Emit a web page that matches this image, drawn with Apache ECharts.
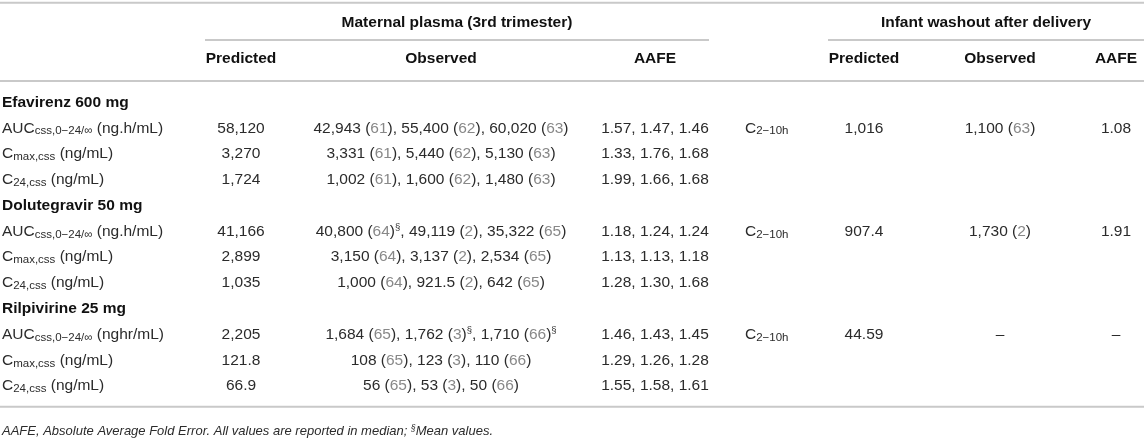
<!DOCTYPE html>
<html>
<head>
<meta charset="utf-8">
<script src="https://cdn.jsdelivr.net/npm/echarts@6/dist/echarts.min.js"></script>
<style>
  html, body {margin: 0; padding: 0; background: #fff;}
  #table {width: 1144px; height: 444px;}
</style>
</head>
<body>
<div id="table"></div>
<script>
// table content
const groupHeaders = ['Maternal plasma (3rd trimester)', 'Infant washout after delivery'];
const colHeaders = ['Predicted', 'Observed', 'AAFE', 'Predicted', 'Observed', 'AAFE'];
const drugs = ['Efavirenz 600 mg', 'Dolutegravir 50 mg', 'Rilpivirine 25 mg'];
const paramNames = [['AUC', 'css,0−24/∞'], ['C', 'max,css'], ['C', '24,css']];
const aucUnits = ['(ng.h/mL)', '(ng.h/mL)', '(nghr/mL)'];
const concUnit = '(ng/mL)';
const predicted = [
  ['58,120', '3,270', '1,724'],
  ['41,166', '2,899', '1,035'],
  ['2,205', '121.8', '66.9']
];
// [value, reference, mean value?]
const observed = [
  [[['42,943', '61'], ['55,400', '62'], ['60,020', '63']],
   [['3,331', '61'], ['5,440', '62'], ['5,130', '63']],
   [['1,002', '61'], ['1,600', '62'], ['1,480', '63']]],
  [[['40,800', '64', true], ['49,119', '2'], ['35,322', '65']],
   [['3,150', '64'], ['3,137', '2'], ['2,534', '65']],
   [['1,000', '64'], ['921.5', '2'], ['642', '65']]],
  [[['1,684', '65'], ['1,762', '3', true], ['1,710', '66', true]],
   [['108', '65'], ['123', '3'], ['110', '66']],
   [['56', '65'], ['53', '3'], ['50', '66']]]
];
const aafe = [
  ['1.57, 1.47, 1.46', '1.33, 1.76, 1.68', '1.99, 1.66, 1.68'],
  ['1.18, 1.24, 1.24', '1.13, 1.13, 1.18', '1.28, 1.30, 1.68'],
  ['1.46, 1.43, 1.45', '1.29, 1.26, 1.28', '1.55, 1.58, 1.61']
];
const infantParam = ['C', '2−10h'];
const infantPredicted = ['1,016', '907.4', '44.59'];
const infantObserved = [['1,100', '63'], ['1,730', '2'], null];
const infantAafe = ['1.08', '1.91', '–'];
const footnote = 'AAFE, Absolute Average Fold Error. All values are reported in median; ';
const footnoteMean = 'Mean values.';

// layout (x in px, y in row units; body row 0 = first drug)
const colX = {label: 2, pred: 241, obs: 441, aafe: 655, infLabel: 745, infPred: 864, infObs: 1000, infAafe: 1116,
  group1: 457, group2: 986};
const rowHeader1 = -3.1, rowHeader2 = -1.69, rowFoot = 12.77;
const rules = [
  [0, 1144, -3.86], [205, 709, -2.42], [828, 1144, -2.42], [0, 1144, -0.83], [0, 1144, 11.8]
];

const FONT = "'Liberation Sans', Arial, Helvetica, sans-serif";
const TEXT = '#2b2b2b';
const rich = {
  n: {fontSize: 15.5, fontFamily: FONT, fill: TEXT, lineHeight: 18},
  b: {fontSize: 15.5, fontFamily: FONT, fill: '#111', fontWeight: 'bold', lineHeight: 18},
  r: {fontSize: 15.5, fontFamily: FONT, fill: '#888', lineHeight: 18},
  s: {fontSize: 11.5, fontFamily: FONT, fill: TEXT, lineHeight: 9, verticalAlign: 'bottom'},
  p: {fontSize: 9.5, fontFamily: FONT, fill: TEXT, lineHeight: 10, verticalAlign: 'top'},
  i: {fontSize: 13, fontFamily: FONT, fill: TEXT, fontStyle: 'italic', lineHeight: 16},
  ip: {fontSize: 8.5, fontFamily: FONT, fill: TEXT, fontStyle: 'italic', lineHeight: 9, verticalAlign: 'top'}
};

function obsText(o) {
  let t = '{n|' + o[0] + ' (}{r|' + o[1] + '}{n|)}';
  if (o[2]) t += '{p|§}';
  return t;
}

const cells = [];
function cell(x, row, text, align) {
  cells.push([x, row, text, align || 'center']);
}

cell(colX.group1, rowHeader1, '{b|' + groupHeaders[0] + '}');
cell(colX.group2, rowHeader1, '{b|' + groupHeaders[1] + '}');
['pred', 'obs', 'aafe', 'infPred', 'infObs', 'infAafe'].forEach((k, i) => {
  cell(colX[k], rowHeader2, '{b|' + colHeaders[i] + '}');
});

drugs.forEach((d, di) => {
  const base = di * 4;
  cell(colX.label, base, '{b|' + d + '}', 'left');
  paramNames.forEach((p, pi) => {
    const row = base + 1 + pi;
    const unit = pi === 0 ? aucUnits[di] : concUnit;
    cell(colX.label, row, '{n|' + p[0] + '}{s|' + p[1] + '}{n| ' + unit + '}', 'left');
    cell(colX.pred, row, '{n|' + predicted[di][pi] + '}');
    cell(colX.obs, row, observed[di][pi].map(obsText).join('{n|, }'));
    cell(colX.aafe, row, '{n|' + aafe[di][pi] + '}');
  });
  const row = base + 1;
  cell(colX.infLabel, row, '{n|' + infantParam[0] + '}{s|' + infantParam[1] + '}', 'left');
  cell(colX.infPred, row, '{n|' + infantPredicted[di] + '}');
  const io = infantObserved[di];
  cell(colX.infObs, row, io ? obsText(io) : '{n|–}');
  cell(colX.infAafe, row, '{n|' + infantAafe[di] + '}');
});

cell(colX.label, rowFoot, '{i|' + footnote + '}{ip|§}{i|' + footnoteMean + '}', 'left');

const chart = echarts.init(document.getElementById('table'));
chart.setOption({
  animation: false,
  grid: {left: 0, right: 0, top: 0, bottom: 0},
  xAxis: {type: 'value', min: 0, max: 1144, show: false},
  yAxis: {type: 'value', min: -3.97, max: 13.24, inverse: true, show: false},
  series: [{
    type: 'custom',
    silent: true,
    clip: false,
    data: rules,
    renderItem: function (params, api) {
      const a = api.coord([api.value(0), api.value(2)]);
      const b = api.coord([api.value(1), api.value(2)]);
      return {
        type: 'line',
        shape: {x1: a[0], y1: a[1], x2: b[0], y2: b[1]},
        style: {stroke: '#c9c9c9', lineWidth: 2}
      };
    }
  }, {
    type: 'custom',
    silent: true,
    clip: false,
    data: cells,
    renderItem: function (params, api) {
      const c = cells[params.dataIndex];
      const pt = api.coord([c[0], c[1]]);
      return {
        type: 'text',
        x: pt[0],
        y: pt[1],
        style: {
          text: c[2],
          rich: rich,
          align: c[3],
          verticalAlign: 'middle'
        }
      };
    }
  }]
});
</script>
</body>
</html>
